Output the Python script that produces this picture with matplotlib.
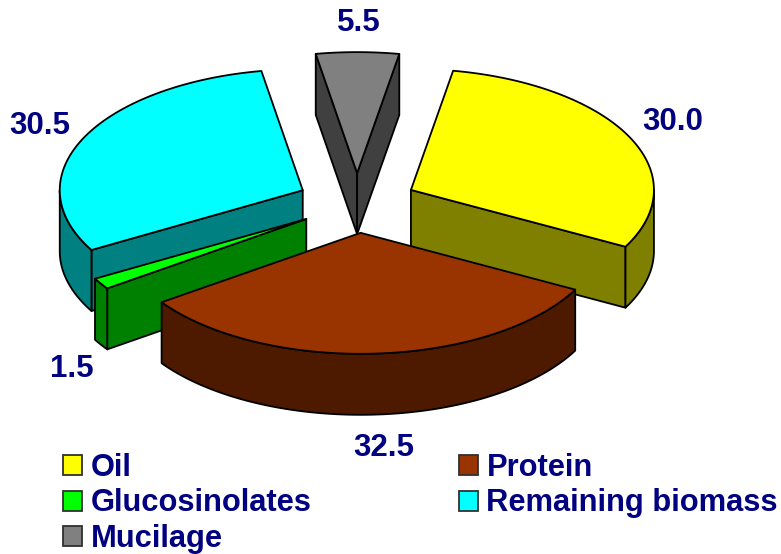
import matplotlib
matplotlib.use('Agg')
import matplotlib.pyplot as plt
from matplotlib.patches import Patch, Polygon
import numpy as np

plt.rcParams['font.family'] = ['Liberation Sans', 'DejaVu Sans']

# data
categories = ['Oil', 'Protein', 'Glucosinolates', 'Remaining biomass', 'Mucilage']
values = [30.0, 32.5, 1.5, 30.5, 5.5]
value_labels = ['30.0', '32.5', '1.5', '30.5', '5.5']
top_colors = ['#FFFF00', '#993300', '#00FF00', '#00FFFF', '#808080']
side_colors = ['#808000', '#4D1A00', '#008000', '#008080', '#404040']

# pie geometry, in pixels of the picture
cx, cy = 357, 203
rx, ry = 243, 121
depth = 61
explode = 60
start_angle = 10.0
text_color = '#000080'
label_pos = [(673, 122), (384, 448), (72, 369), (40, 126), (359, 23)]

fig = plt.figure(figsize=(7.81, 5.54), dpi=100)
ax = fig.add_axes([0, 0, 1, 1])
ax.set_xlim(0, 781)
ax.set_ylim(554, 0)
ax.axis('off')


def rim(t, ox, oy):
    r = np.radians(t)
    return np.column_stack([ox + rx * np.sin(r), oy - ry * np.cos(r)])


# angle limits of every slice, clockwise from the top
shares = np.array(values) / sum(values) * 360
ends = start_angle + np.cumsum(shares)
starts = ends - shares
mids = (starts + ends) / 2
ox = cx + explode * np.sin(np.radians(mids))
oy = cy - explode * ry / rx * np.cos(np.radians(mids))


def face(pts, color, z):
    ax.add_patch(Polygon(pts, closed=True, facecolor=color, edgecolor='black',
                         linewidth=1.3, joinstyle='round', zorder=z))


# back slices first
for z, i in enumerate(np.argsort(oy)):
    a, b = starts[i], ends[i]
    apex = np.array([[ox[i], oy[i]]])
    down = np.array([0, depth])
    z0 = z * 10 + 1

    # cut faces that look at the viewer
    if np.sin(np.radians(a)) < 0:
        e = rim(a, ox[i], oy[i])
        face(np.vstack([apex, e, e + down, apex + down]), side_colors[i], z0)
    if np.sin(np.radians(b)) > 0:
        e = rim(b, ox[i], oy[i])
        face(np.vstack([apex, e, e + down, apex + down]), side_colors[i], z0)

    # outer wall, only the front half of the rim shows
    lo, hi = max(a, 90), min(b, 270)
    if lo < hi:
        arc = rim(np.linspace(lo, hi, 80), ox[i], oy[i])
        face(np.vstack([arc, arc[::-1] + down]), side_colors[i], z0 + 1)

    arc = rim(np.linspace(a, b, 120), ox[i], oy[i])
    face(np.vstack([apex, arc]), top_colors[i], z0 + 2)

for lab, (x, y) in zip(value_labels, label_pos):
    ax.text(x, y, lab, color=text_color, fontsize=22.5, fontweight='bold',
            ha='center', va='center', zorder=100)

handles = [Patch(facecolor=top_colors[i], edgecolor='#303030', linewidth=1.3)
           for i in [0, 2, 4, 1, 3]]
labels = [categories[i] for i in [0, 2, 4, 1, 3]]
ax.legend(handles, labels, ncol=2, loc='lower left',
          bbox_to_anchor=(63 / 781, 0), frameon=False,
          borderpad=0, borderaxespad=0, handlelength=0.63, handleheight=0.63,
          handletextpad=0.26, labelspacing=0.18, columnspacing=4.79,
          labelcolor=text_color, prop={'size': 22.2, 'weight': 'bold'})

fig.savefig('out.png', dpi=100)
